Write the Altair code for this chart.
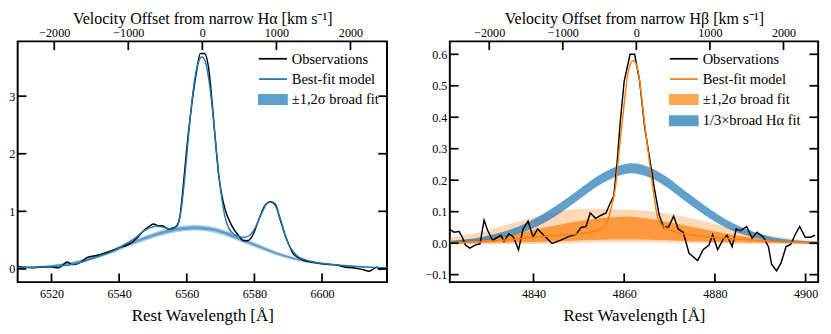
import altair as alt
import pandas as pd

C_KMS = 299792.458
HA_REST = 6564.61
HB_REST = 4862.68

# ---------------- H-alpha panel (left) ----------------
ha_obs_wl = [6510, 6512, 6514, 6516, 6518, 6520, 6522, 6523, 6524.6, 6526,
             6527.5, 6529, 6530.6, 6532, 6534, 6536, 6538.4, 6540, 6542.2, 6544,
             6545.5, 6547, 6548.5, 6550.2, 6551.5, 6553, 6554.5, 6556, 6557, 6558,
             6559, 6560, 6561.4, 6562.9, 6564, 6565.2, 6566.7, 6567.6, 6568.6, 6569.5,
             6570.3, 6571.4, 6572.9, 6574, 6575.3, 6576.7, 6577.8, 6578.8, 6579.8, 6580.6,
             6581.8, 6582.9, 6584, 6584.8, 6585.6, 6586.3, 6587.6, 6588.5, 6589.5, 6590.5,
             6591.4, 6593.3, 6595, 6596.7, 6598.5, 6600.5, 6602, 6603.8, 6605.5, 6607.1,
             6609, 6611, 6612.5, 6613.8, 6615, 6616.2, 6617.1, 6618, 6619.2]
ha_obs_fl = [0.04, 0.03, 0.02, 0.025, 0.03, 0.03, 0.02, 0.05, 0.12, 0.075,
             0.085, 0.13, 0.20, 0.22, 0.24, 0.28, 0.33, 0.37, 0.41, 0.47,
             0.55, 0.65, 0.72, 0.78, 0.75, 0.745, 0.69, 0.71, 0.745, 0.92,
             1.47, 2.09, 2.82, 3.43, 3.74, 3.74, 3.38, 2.82, 2.14, 1.60,
             1.30, 1.02, 0.80, 0.68, 0.58, 0.49, 0.49, 0.52, 0.62, 0.745,
             0.93, 1.08, 1.15, 1.165, 1.15, 1.11, 0.86, 0.69, 0.52, 0.38,
             0.27, 0.185, 0.14, 0.12, 0.10, 0.084, 0.075, 0.072, 0.05, 0.027,
             0.02, 0.0, -0.02, -0.04, -0.01, 0.027, -0.01, 0.0, 0.0]

ha_mod_wl = [6510, 6514, 6518, 6522, 6526, 6529, 6531.5, 6534, 6536.5, 6539,
             6541.2, 6543, 6545, 6546.5, 6548, 6549.5, 6551, 6552.5, 6554, 6555.5,
             6556.5, 6557.5, 6558.5, 6559.5, 6560.5, 6561.5, 6562.5, 6563.5, 6564.5, 6565.5,
             6566.5, 6567.5, 6568.5, 6569.5, 6570.5, 6571.5, 6572.5, 6574, 6575.5, 6577,
             6578.5, 6579.5, 6580.5, 6581.5, 6582.5, 6583.5, 6584.6, 6585.6, 6586.6, 6587.5,
             6588.3, 6589.2, 6590, 6591.5, 6593, 6595, 6597.5, 6600, 6603, 6606,
             6610, 6614, 6619.2]
ha_mod_fl = [0.02, 0.027, 0.035, 0.05, 0.075, 0.12, 0.17, 0.22, 0.27, 0.33,
             0.41, 0.47, 0.55, 0.62, 0.68, 0.72, 0.745, 0.73, 0.71, 0.69,
             0.71, 0.78, 1.10, 1.65, 2.30, 2.90, 3.35, 3.60, 3.68, 3.60,
             3.30, 2.82, 2.22, 1.62, 1.17, 0.86, 0.70, 0.60, 0.56, 0.55,
             0.58, 0.64, 0.745, 0.88, 1.01, 1.12, 1.16, 1.14, 1.05, 0.90,
             0.745, 0.57, 0.44, 0.30, 0.21, 0.16, 0.12, 0.095, 0.075, 0.06,
             0.042, 0.03, 0.02]

ha_broad_wl = [6510, 6515, 6520, 6524.5, 6529, 6534, 6538.5, 6543, 6548, 6553,
               6557.5, 6562.5, 6567, 6572, 6576.5, 6581.5, 6586, 6591, 6595.5, 6600.5,
               6605, 6610, 6614.5, 6619.2]
ha_broad_mid = [0.02, 0.035, 0.055, 0.09, 0.14, 0.22, 0.32, 0.43, 0.54, 0.635,
                0.69, 0.715, 0.69, 0.61, 0.50, 0.385, 0.28, 0.19, 0.13, 0.09,
                0.06, 0.04, 0.028, 0.02]
ha_broad_hw2 = [0.012, 0.014, 0.016, 0.02, 0.024, 0.03, 0.035, 0.04, 0.045, 0.05,
                0.05, 0.05, 0.05, 0.05, 0.045, 0.04, 0.035, 0.03, 0.025, 0.02,
                0.016, 0.014, 0.012, 0.01]
ha_broad_hw1 = [0.006, 0.007, 0.008, 0.01, 0.012, 0.015, 0.018, 0.02, 0.022, 0.025,
                0.025, 0.025, 0.025, 0.025, 0.022, 0.02, 0.018, 0.015, 0.012, 0.01,
                0.008, 0.007, 0.006, 0.005]

# ---------------- H-beta panel (right) ----------------
hb_obs_wl = [4821.4, 4822.5, 4823.6, 4824.3, 4825.0, 4826.0, 4827.1, 4828.2, 4829.1, 4829.9,
             4831.0, 4832.1, 4832.8, 4833.5, 4834.6, 4835.6, 4836.7, 4837.7, 4838.8, 4839.9,
             4840.9, 4842.7, 4844.1, 4845.9, 4847.7, 4849.4, 4850.5, 4851.6, 4852.5, 4853.7,
             4854.8, 4856.0, 4856.9, 4857.7, 4858.4, 4859.1, 4860.0, 4861.3, 4862.3, 4863.4,
             4864.5, 4865.5, 4866.6, 4867.7, 4868.7, 4869.8, 4870.9, 4871.9, 4873.0, 4874.3,
             4876.2, 4877.4, 4878.7, 4879.5, 4880.6, 4881.9, 4882.7, 4883.8, 4884.7, 4885.7,
             4887.0, 4888.2, 4889.3, 4890.7, 4891.8, 4892.5, 4893.6, 4894.6, 4895.7, 4896.7,
             4897.8, 4898.7, 4899.9, 4901.0, 4902.1]
hb_obs_fl = [0.045, 0.035, 0.037, 0.019, -0.006, -0.016, -0.006, -0.002, 0.073, 0.040,
             0.009, 0.019, 0.025, 0.006, 0.030, 0.019, -0.021, 0.045, 0.070, 0.019,
             0.045, 0.019, -0.001, 0.009, 0.021, 0.028, 0.050, 0.053, 0.096, 0.079,
             0.088, 0.096, 0.127, 0.150, 0.249, 0.380, 0.515, 0.600, 0.600, 0.515,
             0.370, 0.280, 0.178, 0.090, 0.050, 0.052, 0.086, 0.045, 0.035, -0.032,
             -0.055, -0.021, -0.006, 0.027, -0.021, 0.014, 0.025, -0.011, 0.045, 0.040,
             0.053, 0.016, 0.035, 0.019, -0.011, -0.067, -0.088, -0.062, -0.011, -0.004,
             0.030, 0.053, 0.019, 0.019, 0.025]

hb_mod_wl = [4821.4, 4825, 4828.5, 4832, 4835.6, 4839, 4842.7, 4846, 4849.8, 4852,
             4854, 4855.3, 4856.2, 4857.2, 4858.1, 4858.8, 4859.9, 4860.9, 4862.0, 4863.1,
             4864.1, 4865.2, 4866.3, 4867.3, 4868.0, 4868.8, 4870, 4872.3, 4876, 4879.4,
             4883, 4886.5, 4890, 4893.6, 4897, 4902.8]
hb_mod_fl = [0.001, 0.002, 0.004, 0.008, 0.012, 0.017, 0.022, 0.026, 0.030, 0.034,
             0.040, 0.047, 0.065, 0.116, 0.18, 0.28, 0.43, 0.545, 0.58, 0.545,
             0.43, 0.30, 0.178, 0.086, 0.062, 0.052, 0.042, 0.032, 0.024, 0.019,
             0.015, 0.012, 0.008, 0.005, 0.003, 0.002]

hb_band_wl = [4821.5, 4825, 4829, 4833, 4837, 4841, 4845, 4849, 4853, 4857,
              4861, 4865, 4869, 4873, 4877, 4881, 4885, 4889, 4893, 4897, 4902.8]
hb_band_hi2 = [0.018, 0.027, 0.037, 0.055, 0.07, 0.086, 0.099, 0.108, 0.11, 0.108,
               0.106, 0.102, 0.095, 0.085, 0.072, 0.057, 0.043, 0.032, 0.022, 0.014, 0.006]
hb_band_hi1 = [0.008, 0.011, 0.015, 0.022, 0.032, 0.045, 0.057, 0.068, 0.076, 0.082,
               0.085, 0.078, 0.069, 0.058, 0.046, 0.035, 0.024, 0.015, 0.009, 0.005, 0.002]
hb_band_lo1 = [0.0, 0.0, 0.001, 0.002, 0.003, 0.004, 0.006, 0.008, 0.01, 0.012,
               0.012, 0.011, 0.009, 0.007, 0.005, 0.004, 0.003, 0.002, 0.001, 0.0, 0.0]
hb_band_lo2 = [-0.004, -0.004, -0.004, -0.003, -0.003, -0.002, -0.001, 0.0, 0.002, 0.003,
               0.003, 0.003, 0.002, 0.001, 0.0, -0.001, -0.002, -0.003, -0.003, -0.004, -0.004]

ha_third_wl = [4821.5, 4824, 4827, 4830, 4833, 4836, 4839, 4842, 4845, 4848,
               4851, 4854, 4857, 4860, 4861.5, 4863, 4866, 4869, 4872, 4875,
               4878, 4881, 4884, 4887, 4890, 4893, 4896, 4899, 4902.8]
ha_third_mid = [0.004, 0.007, 0.011, 0.017, 0.026, 0.038, 0.055, 0.077, 0.103, 0.133,
                0.165, 0.196, 0.220, 0.235, 0.238, 0.236, 0.222, 0.198, 0.166, 0.133,
                0.102, 0.074, 0.051, 0.034, 0.021, 0.012, 0.007, 0.004, 0.002]
ha_third_hw = [0.003, 0.004, 0.005, 0.007, 0.009, 0.011, 0.013, 0.015, 0.016, 0.016,
               0.016, 0.016, 0.016, 0.016, 0.016, 0.016, 0.016, 0.016, 0.016, 0.016,
               0.015, 0.014, 0.012, 0.010, 0.008, 0.006, 0.005, 0.004, 0.003]

# ---------------- axes / text ----------------
vel_ticks = [-2000, -1000, 0, 1000, 2000]
ha_wl_ticks = [6520, 6540, 6560, 6580, 6600]
ha_y_ticks = [0, 1, 2, 3]
hb_wl_ticks = [4840, 4860, 4880, 4900]
hb_y_ticks = [-0.1, 0.0, 0.1, 0.2, 0.3, 0.4, 0.5, 0.6]
ha_xdom = [6510.0, 6619.2]
ha_ydom = [-0.23, 3.952]
hb_xdom = [4821.55, 4902.77]
hb_ydom = [-0.1237, 0.641]
x_title = "Rest Wavelength [Å]"
ha_top_title = "Velocity Offset from narrow Hα [km s⁻¹]"
hb_top_title = "Velocity Offset from narrow Hβ [km s⁻¹]"
ha_leg_labels = ["Observations", "Best-fit model", "±1,2σ broad fit"]
hb_leg_labels = ["Observations", "Best-fit model", "±1,2σ broad fit", "1/3×broad Hα fit"]

BLUE = "#1f77b4"
ORANGE = "#ff7f0e"
FONT = "Liberation Serif"
H = 249
W_L = 382
W_R = 381
TICK_PX = 9
TICK_COLOR = "black"
LINE_PATH = "M-1.45,0H1.45"
RECT_PATH = "M-1.45,-0.48H1.45V0.48H-1.45Z"


def band_layer(wl, lo, hi, xs, ys, color, opacity):
    d = pd.DataFrame({"wl": wl, "lo": lo, "hi": hi})
    return alt.Chart(d).mark_area(color=color, opacity=opacity, clip=True,
                                  interpolate="monotone").encode(
        x=alt.X("wl:Q", scale=xs, axis=None),
        y=alt.Y("lo:Q", scale=ys, axis=None),
        y2=alt.Y2("hi:Q"))


def line_layer(wl, fl, xs, ys, color, interp="linear", width=1.5):
    d = pd.DataFrame({"wl": wl, "f": fl})
    return alt.Chart(d).mark_line(color=color, strokeWidth=width, clip=True,
                                  interpolate=interp).encode(
        x=alt.X("wl:Q", scale=xs, axis=None),
        y=alt.Y("f:Q", scale=ys, axis=None))


def legend_layer(labels, colors, shapes, xs, ys, lx, ly):
    d = pd.DataFrame({"label": labels, "wl": [0.0] * len(labels), "f": [0.0] * len(labels)})
    leg = alt.Legend(title=None, orient="none", legendX=lx, legendY=ly,
                     symbolSize=400, symbolStrokeWidth=1.8, symbolOpacity=1,
                     labelFont=FONT, labelFontSize=15, labelColor="black",
                     labelOffset=8.5, rowPadding=2, padding=0)
    cs = alt.Scale(domain=labels, range=colors)
    return alt.Chart(d).mark_point(filled=True, opacity=1, clip=True, size=400).encode(
        x=alt.X("wl:Q", scale=xs, axis=None),
        y=alt.Y("f:Q", scale=ys, axis=None),
        color=alt.Color("label:N", scale=cs, legend=leg),
        stroke=alt.Stroke("label:N", scale=cs, legend=leg),
        shape=alt.Shape("label:N", scale=alt.Scale(domain=labels, range=shapes), legend=leg))


def tick_lines(xdom, ydom, xs, ys, width, xticks, yticks, rest):
    """Inward ticks on all four sides, each a two-point line segment."""
    top_vals = [rest * (1 + v / C_KMS) for v in vel_ticks]
    dx = (xdom[1] - xdom[0]) * TICK_PX / width
    dy = (ydom[1] - ydom[0]) * TICK_PX / H
    rows = []
    k = 0
    for t in xticks:
        rows += [{"id": k, "x": t, "y": ydom[0]}, {"id": k, "x": t, "y": ydom[0] + dy}]
        k += 1
    for t in top_vals:
        rows += [{"id": k, "x": t, "y": ydom[1]}, {"id": k, "x": t, "y": ydom[1] - dy}]
        k += 1
    for t in yticks:
        rows += [{"id": k, "x": xdom[0], "y": t}, {"id": k, "x": xdom[0] + dx, "y": t}]
        k += 1
        rows += [{"id": k, "x": xdom[1] - dx, "y": t}, {"id": k, "x": xdom[1], "y": t}]
        k += 1
    d = pd.DataFrame(rows)
    return alt.Chart(d).mark_line(color=TICK_COLOR, strokeWidth=1.8, strokeCap="butt",
                                  opacity=1).encode(
        x=alt.X("x:Q", scale=xs, axis=None),
        y=alt.Y("y:Q", scale=ys, axis=None),
        detail="id:N")


def axis_layers(xdom, ydom, xs, ys, xticks, yticks, yfmt, rest, top_title):
    top_vals = [rest * (1 + v / C_KMS) for v in vel_ticks]
    lab_expr = f"format(round((datum.value / {rest} - 1) * {C_KMS} / 100) * 100 + 0, 'd')"
    d = pd.DataFrame({"wl": xdom, "f": ydom})
    base = alt.Chart(d).mark_point(opacity=0)
    common = dict(grid=False, domain=False, labelFlush=False, labelOverlap=False,
                  ticks=False, tickSize=0)
    a1 = base.encode(
        x=alt.X("wl:Q", scale=xs, axis=alt.Axis(orient="bottom", values=xticks, labelPadding=6,
                                                 format="d", title=x_title, titlePadding=7, **common)),
        y=alt.Y("f:Q", scale=ys, axis=alt.Axis(orient="left", values=yticks, labelPadding=3,
                                                format=yfmt, title=None, **common)))
    a2 = base.encode(
        x=alt.X("wl:Q", scale=xs, axis=alt.Axis(orient="top", values=top_vals, labelPadding=2,
                                                 labelExpr=lab_expr, title=top_title,
                                                 titlePadding=0, titleFontSize=16.5, **common)))
    return [a1, a2]


# ---- left panel
xs_l = alt.Scale(domain=ha_xdom, nice=False, zero=False)
ys_l = alt.Scale(domain=ha_ydom, nice=False, zero=False)
ha_lo2 = [m - h for m, h in zip(ha_broad_mid, ha_broad_hw2)]
ha_hi2 = [m + h for m, h in zip(ha_broad_mid, ha_broad_hw2)]
ha_lo1 = [m - h for m, h in zip(ha_broad_mid, ha_broad_hw1)]
ha_hi1 = [m + h for m, h in zip(ha_broad_mid, ha_broad_hw1)]
left = alt.layer(
    band_layer(ha_broad_wl, ha_lo2, ha_hi2, xs_l, ys_l, BLUE, 0.35),
    band_layer(ha_broad_wl, ha_lo1, ha_hi1, xs_l, ys_l, BLUE, 0.55),
    line_layer(ha_obs_wl, ha_obs_fl, xs_l, ys_l, "black", "monotone"),
    line_layer(ha_mod_wl, ha_mod_fl, xs_l, ys_l, BLUE, "monotone"),
    tick_lines(ha_xdom, ha_ydom, xs_l, ys_l, W_L, ha_wl_ticks, ha_y_ticks, HA_REST),
    legend_layer(ha_leg_labels, ["black", BLUE, "#5f9fcd"], [LINE_PATH, LINE_PATH, RECT_PATH],
                 xs_l, ys_l, 253, 7),
    *axis_layers(ha_xdom, ha_ydom, xs_l, ys_l, ha_wl_ticks, ha_y_ticks, "d", HA_REST, ha_top_title),
).resolve_axis(x="independent", y="independent").properties(width=W_L, height=H)

# ---- right panel
xs_r = alt.Scale(domain=hb_xdom, nice=False, zero=False)
ys_r = alt.Scale(domain=hb_ydom, nice=False, zero=False)
third_lo = [m - h for m, h in zip(ha_third_mid, ha_third_hw)]
third_hi = [m + h for m, h in zip(ha_third_mid, ha_third_hw)]
right = alt.layer(
    band_layer(hb_band_wl, hb_band_lo2, hb_band_hi2, xs_r, ys_r, ORANGE, 0.3),
    band_layer(hb_band_wl, hb_band_lo1, hb_band_hi1, xs_r, ys_r, ORANGE, 0.7),
    band_layer(ha_third_wl, third_lo, third_hi, xs_r, ys_r, BLUE, 0.7),
    line_layer(hb_obs_wl, hb_obs_fl, xs_r, ys_r, "black", "linear"),
    line_layer(hb_mod_wl, hb_mod_fl, xs_r, ys_r, ORANGE, "monotone"),
    tick_lines(hb_xdom, hb_ydom, xs_r, ys_r, W_R, hb_wl_ticks, hb_y_ticks, HB_REST),
    legend_layer(hb_leg_labels, ["black", ORANGE, "#ffa654", "#5b9ec9"],
                 [LINE_PATH, LINE_PATH, RECT_PATH, RECT_PATH], xs_r, ys_r, 231, 7),
    *axis_layers(hb_xdom, hb_ydom, xs_r, ys_r, hb_wl_ticks, hb_y_ticks, ".1f", HB_REST, hb_top_title),
).resolve_axis(x="independent", y="independent").properties(width=W_R, height=H)

chart = alt.hconcat(left, right, spacing=33).resolve_scale(
    color="independent", stroke="independent", shape="independent"
).resolve_legend(
    color="independent", stroke="independent", shape="independent"
).properties(
    padding={"left": -1, "top": -3, "right": 0, "bottom": 0}
).configure_view(stroke="black", strokeWidth=2).configure_axis(
    labelFont=FONT, labelFontSize=12.5, labelColor="black",
    titleFont=FONT, titleFontSize=17.5, titleColor="black", titleFontWeight="normal"
)

chart.save("out.html", embed_options={"renderer": "svg", "actions": False})
